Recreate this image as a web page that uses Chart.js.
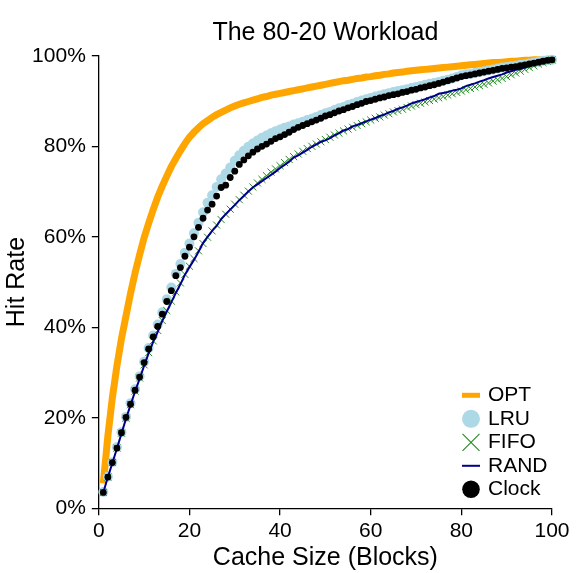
<!DOCTYPE html>
<html>
<head>
<meta charset="utf-8">
<script src="https://cdn.jsdelivr.net/npm/chart.js@4/dist/chart.umd.min.js"></script>
<style>
  html, body { margin: 0; padding: 0; background: #fff; }
  #wrap { width: 580px; height: 573px; position: relative; }
</style>
</head>
<body>
<div id="wrap"><canvas id="chart"></canvas></div>
<script>
// Hit rate (%) per cache size, 80-20 workload
const cacheSizes = [1,2,3,4,5,6,7,8,9,10,11,12,13,14,15,16,17,18,19,20,
  21,22,23,24,25,26,27,28,29,30,31,32,33,34,35,36,37,38,39,40,
  41,42,43,44,45,46,47,48,49,50,51,52,53,54,55,56,57,58,59,60,
  61,62,63,64,65,66,67,68,69,70,71,72,73,74,75,76,77,78,79,80,
  81,82,83,84,85,86,87,88,89,90,91,92,93,94,95,96,97,98,99,100];

const optRate = [5.5,16,24.5,31.5,37.5,42.5,47.5,52,56,59.8,
  63,66,68.8,71.2,73.4,75.5,77.3,79,80.6,82,
  83.1,84.1,85,85.7,86.4,87,87.5,88,88.5,88.9,
  89.3,89.6,89.9,90.2,90.5,90.8,91,91.3,91.5,91.7,
  91.9,92.1,92.3,92.5,92.7,92.9,93.1,93.3,93.5,93.7,
  93.9,94.1,94.3,94.5,94.6,94.8,95,95.1,95.3,95.4,
  95.6,95.7,95.9,96,96.2,96.3,96.4,96.6,96.7,96.8,
  96.9,97,97.1,97.2,97.3,97.4,97.5,97.6,97.7,97.8,
  97.9,98,98.1,98.2,98.3,98.4,98.5,98.5,98.6,98.7,
  98.8,98.8,98.9,99,99,99.1,99.1,99.2,99.2,99.2];

const lruRate = [3.6,7.0,10.2,13.5,16.8,20.2,23.2,26.3,29.2,32.4,
  35.4,38.2,40.6,43.3,46.2,48.8,51.8,54.0,56.5,58.5,
  60.8,63.1,65.4,67.5,69.2,71.0,72.7,74.0,75.3,76.8,
  78.0,79.0,79.9,80.6,81.3,81.9,82.4,82.9,83.3,83.7,
  84.1,84.4,84.8,85.1,85.4,85.8,86.1,86.5,86.9,87.3,
  87.6,88.0,88.4,88.7,89.1,89.4,89.8,90.1,90.4,90.7,
  91.0,91.2,91.5,91.7,92.0,92.2,92.4,92.6,92.9,93.1,
  93.3,93.6,93.8,94.0,94.2,94.5,94.7,95.0,95.3,95.7,
  95.9,96.0,96.2,96.4,96.6,96.8,97.0,97.2,97.4,97.5,
  97.7,97.8,98.0,98.1,98.3,98.5,98.7,98.9,99.0,99.1];

const fifoRate = [3.5,6.9,10.1,13.3,16.6,19.9,22.9,25.9,28.8,31.7,
  34.4,37.0,39.3,41.5,43.7,45.8,47.8,49.8,51.7,53.5,
  55.2,56.9,58.5,59.9,61.3,62.6,63.8,65.0,66.1,67.2,
  68.2,69.2,70.1,71.0,71.9,72.7,73.5,74.3,75.0,75.7,
  76.4,77.1,77.7,78.3,78.9,79.5,80.0,80.5,81.0,81.5,
  82.0,82.5,82.9,83.4,83.8,84.2,84.6,85.0,85.4,85.8,
  86.2,86.5,86.9,87.2,87.6,87.9,88.2,88.6,88.9,89.2,
  89.5,89.8,90.1,90.4,90.7,91.0,91.3,91.6,91.9,92.2,
  92.5,92.8,93.1,93.4,93.7,94.0,94.4,94.7,95.0,95.4,
  95.8,96.2,96.6,97.0,97.4,97.8,98.2,98.5,98.8,99.1];

const randRate = [3.5,6.9,10.0,13.2,16.5,19.8,22.8,25.8,28.6,31.5,
  34.3,36.8,39.0,41.4,43.5,45.5,47.6,49.5,51.6,53.3,
  54.9,56.7,58.6,60.0,61.3,62.4,63.9,65.0,66.0,67.0,
  68.1,69.0,70.0,70.9,71.6,72.3,73.0,73.7,74.4,75.2,
  75.9,76.6,77.5,78.0,78.6,79.2,79.9,80.4,81.0,81.3,
  81.8,82.4,82.9,83.5,83.8,84.4,84.7,85.1,85.5,85.9,
  86.2,86.7,87.0,87.5,87.8,88.3,88.6,89.0,89.5,89.8,
  90.1,90.4,90.8,91.1,91.6,91.8,92.0,92.3,92.5,92.8,
  93.3,93.6,93.9,94.3,94.6,95.0,95.3,95.6,95.9,96.3,
  96.6,96.9,97.1,97.4,97.7,98.0,98.3,98.6,98.9,99.1];

const clockRate = [3.5,6.9,10.1,13.3,16.7,20.1,23.0,26.1,29.0,32.2,
  35.2,37.9,40.2,42.9,45.7,48.1,51.4,53.2,55.7,57.7,
  60.0,62.1,64.1,65.9,67.2,69.0,70.9,71.4,73.1,74.5,
  76.0,77.0,77.9,78.7,79.4,80.0,80.5,81.1,81.7,82.1,
  82.6,83.1,83.7,84.2,84.6,85.0,85.4,85.8,86.2,86.7,
  87.0,87.4,87.8,88.1,88.5,88.8,89.2,89.5,89.9,90.1,
  90.4,90.7,90.9,91.2,91.4,91.6,91.9,92.1,92.4,92.6,
  92.9,93.1,93.4,93.6,93.9,94.2,94.5,94.8,95.1,95.4,
  95.6,95.8,96.0,96.2,96.4,96.6,96.8,97.0,97.2,97.3,
  97.5,97.6,97.8,98.0,98.2,98.4,98.6,98.8,99.0,99.1];

const xTicks = [0, 20, 40, 60, 80, 100];
const yTicks = [0, 20, 40, 60, 80, 100];

const FONT = "'Liberation Sans', Arial, Helvetica, sans-serif";

function toPoints(values) {
  return cacheSizes.map((c, i) => ({ x: c, y: values[i] }));
}

// legend drawn inside the plot, bottom right, like the original
const cornerLegend = {
  id: "cornerLegend",
  afterDraw(chart) {
    const ctx = chart.ctx;
    const area = chart.chartArea;
    const symX = area.right - 81;
    const textX = area.right - 64;
    const rowH = 23.5;
    const y0 = area.bottom - 19 - 4 * rowH;
    ctx.save();
    ctx.font = "21px " + FONT;
    ctx.textBaseline = "middle";
    ctx.textAlign = "left";
    chart.data.datasets.forEach((ds, i) => {
      const y = y0 + i * rowH;
      if (ds.legendSymbol === "line") {
        ctx.strokeStyle = ds.borderColor;
        ctx.lineWidth = ds.legendLineWidth;
        ctx.beginPath();
        ctx.moveTo(symX - 9, y);
        ctx.lineTo(symX + 9, y);
        ctx.stroke();
      } else {
        ctx.fillStyle = ds.pointBackgroundColor;
        ctx.strokeStyle = ds.pointBorderColor;
        ctx.lineWidth = ds.legendBorder;
        if (ds.pointStyle === "circle") {
          ctx.beginPath();
          ctx.arc(symX, y, ds.legendRadius, 0, Math.PI * 2);
          ctx.fill();
        } else {
          Chart.helpers.drawPoint(ctx, {
            pointStyle: ds.pointStyle,
            radius: ds.legendRadius,
            borderWidth: ds.legendBorder,
            rotation: 0,
          }, symX, y);
        }
      }
      ctx.fillStyle = "#000";
      ctx.fillText(ds.label, textX, y);
    });
    ctx.restore();
  },
};

const ctx = document.getElementById("chart").getContext("2d");
const chart = new Chart(ctx, {
  type: "line",
  data: {
    datasets: [
      {
        label: "OPT",
        data: toPoints(optRate),
        borderColor: "#FFA500",
        borderWidth: 7,
        pointRadius: 0,
        showLine: true,
        tension: 0,
        order: 5,
        legendSymbol: "line",
        legendLineWidth: 5,
      },
      {
        label: "LRU",
        data: toPoints(lruRate),
        showLine: false,
        pointStyle: "circle",
        pointRadius: 5,
        pointBorderWidth: 0,
        pointBackgroundColor: "#ADD8E6",
        pointBorderColor: "#ADD8E6",
        borderColor: "#ADD8E6",
        order: 4,
        legendSymbol: "point",
        legendRadius: 9,
        legendBorder: 0,
      },
      {
        label: "FIFO",
        data: toPoints(fifoRate),
        showLine: false,
        pointStyle: "crossRot",
        pointRadius: 5,
        pointBorderWidth: 1,
        pointBackgroundColor: "#228B22",
        pointBorderColor: "#228B22",
        borderColor: "#228B22",
        order: 3,
        legendSymbol: "point",
        legendRadius: 12,
        legendBorder: 1.1,
      },
      {
        label: "RAND",
        data: toPoints(randRate),
        borderColor: "#00008B",
        borderWidth: 2,
        pointRadius: 0,
        showLine: true,
        tension: 0,
        order: 2,
        legendSymbol: "line",
        legendLineWidth: 2,
      },
      {
        label: "Clock",
        data: toPoints(clockRate),
        showLine: false,
        pointStyle: "circle",
        pointRadius: 3.4,
        pointBorderWidth: 0,
        pointBackgroundColor: "#000",
        pointBorderColor: "#000",
        borderColor: "#000",
        order: 1,
        legendSymbol: "point",
        legendRadius: 8.8,
        legendBorder: 0,
      },
    ].map((ds) => Object.assign({ clip: false, fill: false }, ds)),
  },
  options: {
    responsive: true,
    maintainAspectRatio: false,
    animation: false,
    events: [],
    layout: { padding: { left: 2, right: 28, top: 0, bottom: 0 } },
    plugins: {
      legend: { display: false },
      tooltip: { enabled: false },
      title: {
        display: true,
        text: "The 80-20 Workload",
        fullSize: false,
        color: "#000",
        font: { family: FONT, size: 25, weight: "normal" },
        padding: { top: 18.5, bottom: 7.3 },
      },
    },
    scales: {
      x: {
        type: "linear",
        min: 0,
        max: 100,
        afterBuildTicks: (scale) => { scale.ticks = xTicks.map((v) => ({ value: v })); },
        afterFit: (scale) => { scale.height = 64.7; },
        border: { display: true, color: "#000", width: 1.3 },
        grid: { drawOnChartArea: false, drawTicks: true, tickLength: 7, color: "#000", lineWidth: 1.3 },
        ticks: { color: "#000", padding: 3, maxRotation: 0, font: { family: FONT, size: 21 } },
        title: {
          display: true,
          text: "Cache Size (Blocks)",
          color: "#000",
          font: { family: FONT, size: 25 },
          padding: { top: 0, bottom: 0 },
        },
      },
      y: {
        type: "linear",
        min: 0,
        max: 100,
        afterBuildTicks: (scale) => { scale.ticks = yTicks.map((v) => ({ value: v })); },
        afterFit: (scale) => { scale.width = 96.8; },
        border: { display: true, color: "#000", width: 1.3 },
        grid: { drawOnChartArea: false, drawTicks: true, tickLength: 7, color: "#000", lineWidth: 1.3 },
        ticks: {
          color: "#000",
          padding: 6,
          font: { family: FONT, size: 21 },
          callback: (v) => v + "%",
        },
        title: {
          display: true,
          text: "Hit Rate",
          color: "#000",
          font: { family: FONT, size: 25 },
          padding: { top: 0, bottom: 0 },
        },
      },
    },
  },
  plugins: [cornerLegend],
});
</script>
</body>
</html>
